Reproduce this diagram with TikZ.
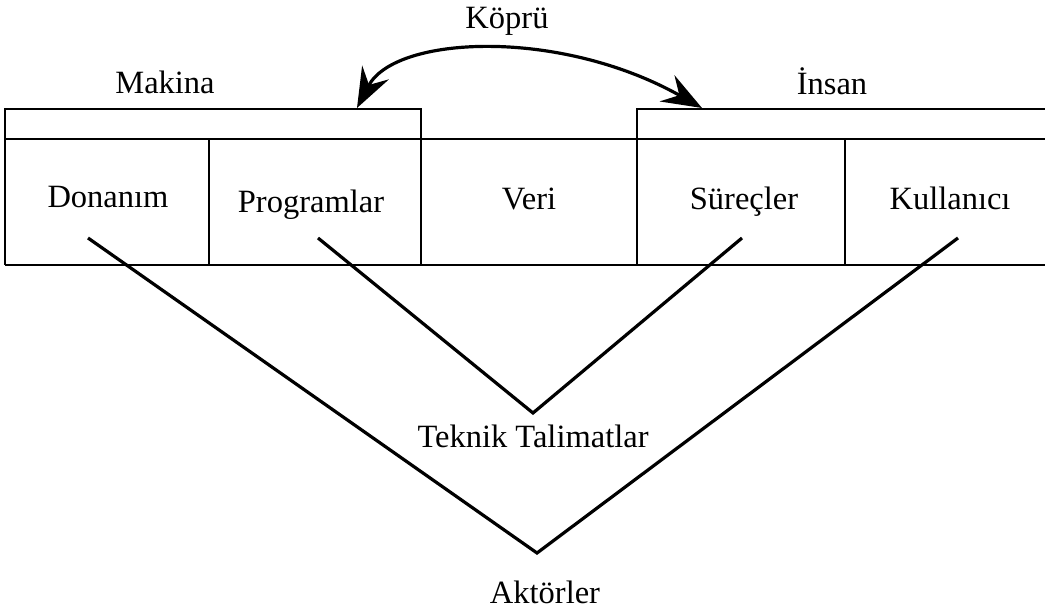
\documentclass[tikz,border=0pt]{standalone}
\usepackage{fontspec}
\setmainfont{Liberation Serif}
\usetikzlibrary{arrows.meta}

\begin{document}
\begin{tikzpicture}[x=0.5pt, y=-0.5pt,
    lbl/.style={font=\fontsize{16.25}{19.5}\selectfont, inner sep=0pt, anchor=base},
    box/.style={line width=1.1pt},
    leg/.style={line width=1.6pt, line join=miter},
    bridge/.style={line width=1.6pt, >={Stealth[length=20pt,width=15pt,inset=7pt]}, <->}]
    \useasboundingbox (0,0) rectangle (1045,613);
    % boxes
    \draw[box] (5,265) -- (5,109) -- (421,109) -- (421,265);
    \draw[box] (637,265) -- (637,109) -- (1045,109);
    \draw[box] (5,139) -- (1045,139);
    \draw[box] (5,265) -- (1045,265);
    \draw[box] (209,139) -- (209,265);
    \draw[box] (845,139) -- (845,265);
    % labels
    \node[lbl] (M) at (165,94) {Makina};
    \node[lbl] (I) at (832,95) {İnsan};
    \node[lbl] (K) at (507,29) {Köprü};
    \node[lbl] (D) at (108,208) {Donanım};
    \node[lbl] (P) at (311,213) {Programlar};
    \node[lbl] (V) at (529,210) {Veri};
    \node[lbl] (S) at (744,210) {Süreçler};
    \node[lbl] (U) at (950,210) {Kullanıcı};
    \node[lbl] (TT) at (533,448) {Teknik Talimatlar};
    \node[lbl] (AK) at (545,604) {Aktörler};
    % legs
    \coordinate (D1) at (88,238);
    \coordinate (P1) at (318,238);
    \coordinate (S1) at (742,238);
    \coordinate (U1) at (958,238);
    \coordinate (T) at (533,413);
    \coordinate (A) at (537,553);
    \draw[leg] (D1) -- (A) -- (U1);
    \draw[leg] (P1) -- (T) -- (S1);
    % bridge
    \coordinate (L) at (357,108);
    \coordinate (R) at (702,108);
    \draw[bridge] (L) .. controls (395,35) and (560,28) .. (R);
\end{tikzpicture}
\end{document}
